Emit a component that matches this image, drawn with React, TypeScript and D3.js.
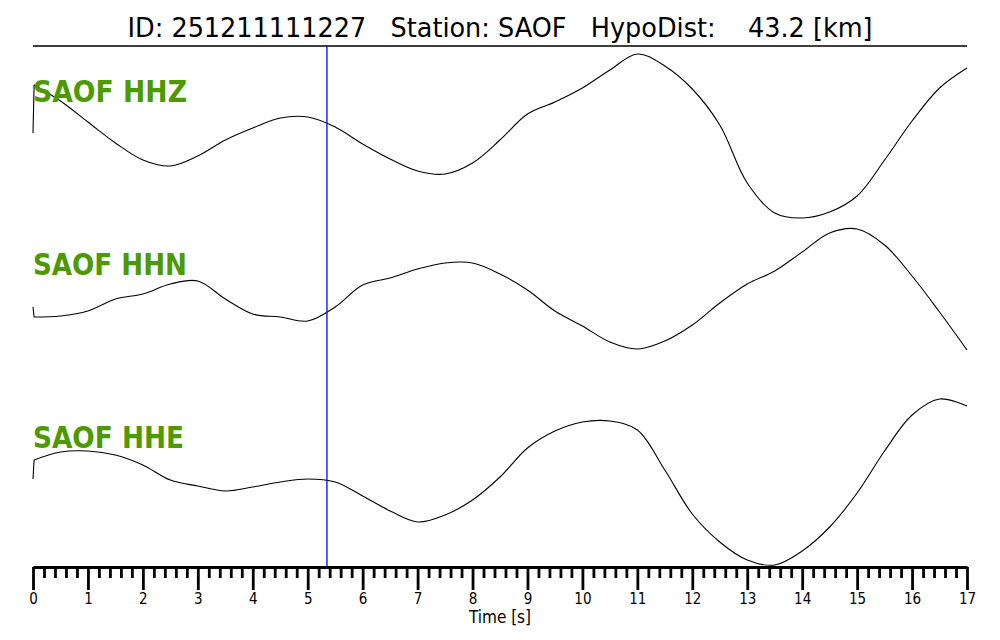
import React, { useEffect, useRef } from "react";
import * as d3 from "d3";

// Time samples in seconds
const TIME = [0, 0.02, 0.5, 1, 1.5, 2, 2.5, 3, 3.5, 4, 4.5, 5, 5.5, 6, 6.5, 7, 7.5, 8, 8.5, 9, 9.5, 10, 10.5, 11, 11.5, 12, 12.5, 13, 13.5, 14, 14.5, 15, 15.5, 16, 16.5, 17];

// Normalised trace amplitudes
const HHZ = [3, 51, 35, 14, -7, -24, -30, -20, -4, 8, 18, 19, 9, -8, -23, -35, -38, -27, -4, 22, 34, 48, 66, 82, 70, 47, 11, -47, -77, -82, -76, -60, -24, 15, 48, 68];
const HHN = [-17, -27, -26, -21, -9, -4, 6, 9, -9, -24, -27, -31, -17, 5, 12, 21, 27, 27, 16, 0, -21, -36, -52, -59, -51, -35, -13, 6, 19, 38, 57, 61, 45, 14, -22, -60];
const HHE = [14, 33, 41, 42, 38, 28, 13, 7, 2, 6, 11, 14, 11, -3, -18, -29, -22, -7, 16, 45, 62, 71, 72, 63, 23, -21, -49, -67, -72, -58, -34, 0, 42, 78, 94, 87];

const CHANNELS = ["SAOF HHZ", "SAOF HHN", "SAOF HHE"];
const SERIES = [HHZ, HHN, HHE];
const TRACE_CENTERS = [136, 290, 493];
const LABEL_BASELINES = [102, 275, 448];

const MAJOR_TICKS = d3.range(0, 18, 1);
const MINOR_TICKS = d3.range(0, 85, 1).map((i) => i * 0.2).filter((v) => Math.abs(v - Math.round(v)) > 1e-6);
const PICK_TIME = 5.35;
const TITLE = "ID: 251211111227   Station: SAOF   HypoDist:    43.2 [km]";

export default function App() {
  const ref = useRef<SVGSVGElement | null>(null);

  useEffect(() => {
    const svg = d3.select(ref.current);
    svg.selectAll("*").remove();
    const W = 1000, H = 640;
    const left = 33, right = 967, axisY = 567, topLine = 46;
    const x = d3.scaleLinear().domain([0, 17]).range([left, right]);
    const font = "'DejaVu Sans Condensed', 'DejaVu Sans', sans-serif";

    svg.append("rect").attr("width", W).attr("height", H).attr("fill", "#fff");

    // Title
    svg.append("text")
      .attr("x", 500).attr("y", 37)
      .attr("text-anchor", "middle")
      .attr("font-family", font)
      .attr("font-size", 27)
      .attr("fill", "#000")
      .attr("textLength", 745)
      .attr("lengthAdjust", "spacingAndGlyphs")
      .style("white-space", "pre")
      .text(TITLE);

    svg.append("line")
      .attr("x1", left).attr("x2", right)
      .attr("y1", topLine).attr("y2", topLine)
      .attr("stroke", "#000").attr("stroke-width", 1.5);

    // Traces: initial onset step drawn straight, the rest smooth
    SERIES.forEach((vals, k) => {
      const c = TRACE_CENTERS[k];
      const y = d3.scaleLinear().domain([-100, 100]).range([c + 100, c - 100]);
      const pts: [number, number][] = vals.map((v, i) => [x(TIME[i]), y(v)]);
      const smooth = d3.line().curve(d3.curveCatmullRom.alpha(0.5));
      const d = `M${pts[0][0]},${pts[0][1]}L` + (smooth(pts.slice(1)) as string).slice(1);
      svg.append("path")
        .attr("d", d)
        .attr("fill", "none")
        .attr("stroke", "#000")
        .attr("stroke-width", 1.1)
        .attr("stroke-linejoin", "round");
    });

    // Labels
    CHANNELS.forEach((name, k) => {
      svg.append("text")
        .attr("x", left).attr("y", LABEL_BASELINES[k])
        .attr("font-family", font)
        .attr("font-weight", "bold")
        .attr("font-size", 30)
        .attr("fill", "#4c9a00")
        .attr("textLength", k === 2 ? 151 : 154)
        .attr("lengthAdjust", "spacingAndGlyphs")
        .text(name);
    });

    // Pick line
    svg.append("line")
      .attr("x1", x(PICK_TIME)).attr("x2", x(PICK_TIME))
      .attr("y1", topLine).attr("y2", axisY)
      .attr("stroke", "#0000ff").attr("stroke-width", 1.3);

    // Axis: minor ticks
    const minorAxis = d3.axisBottom(x).tickValues(MINOR_TICKS).tickSize(11).tickSizeOuter(0).tickFormat(() => "");
    const gMinor = svg.append("g").attr("transform", `translate(0,${axisY})`).call(minorAxis);
    gMinor.select(".domain").remove();
    gMinor.selectAll("line").attr("stroke", "#000").attr("stroke-width", 2.8);

    // Axis: major ticks
    const majorAxis = d3.axisBottom(x).tickValues(MAJOR_TICKS).tickSize(23).tickSizeOuter(0).tickPadding(3).tickFormat(d3.format("d"));
    const gMajor = svg.append("g").attr("transform", `translate(0,${axisY})`).call(majorAxis);
    gMajor.select(".domain").attr("stroke", "#000").attr("stroke-width", 2.8);
    gMajor.selectAll("line").attr("stroke", "#000").attr("stroke-width", 2.8);
    gMajor.selectAll("text")
      .attr("font-family", font)
      .attr("font-size", 15)
      .attr("fill", "#000");
    gMajor.attr("font-family", null).attr("font-size", null);

    svg.append("text")
      .attr("x", 500).attr("y", 623)
      .attr("text-anchor", "middle")
      .attr("font-family", font)
      .attr("font-size", 17)
      .attr("fill", "#000")
      .text("Time [s]");
  }, []);

  return (
    <svg
      ref={ref}
      width={1000}
      height={640}
      style={{ position: "absolute", left: 0, top: 0, display: "block" }}
    />
  );
}
